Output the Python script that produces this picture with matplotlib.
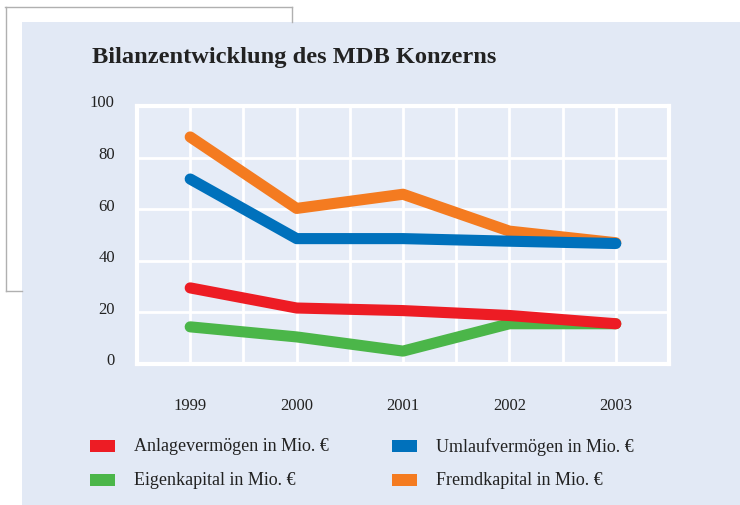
import matplotlib
matplotlib.use("Agg")
import matplotlib.pyplot as plt
import matplotlib.transforms as mtransforms
from matplotlib.patches import Rectangle
from matplotlib.lines import Line2D

years = [1999, 2000, 2001, 2002, 2003]
anlage = [29.5, 21.7, 20.7, 18.8, 15.6]
umlauf = [71.7, 48.6, 48.6, 47.6, 46.7]
eigen = [14.4, 10.5, 5.0, 15.6, 15.6]
fremd = [88.0, 60.3, 65.8, 51.5, 47.0]
y_ticks = [0, 20, 40, 60, 80, 100]
labels = ["Anlagevermögen in Mio. €", "Umlaufvermögen in Mio. €",
          "Eigenkapital in Mio. €", "Fremdkapital in Mio. €"]
title = "Bilanzentwicklung des MDB Konzerns"

RED, BLUE, GREEN, ORANGE = "#ed1c24", "#0071bc", "#4bb649", "#f47b20"
BG = "#e2e9f5"
serif = ["Liberation Serif", "DejaVu Serif"]

W, H = 740, 506
fig = plt.figure(figsize=(W / 100, H / 100), dpi=100)
fig.patch.set_facecolor("white")

# background frame + panel
fig.add_artist(Line2D([5 / W, 292 / W], [1 - 8 / H, 1 - 8 / H], color="#b0b0b0", lw=1))
fig.add_artist(Line2D([292 / W, 292 / W], [1 - 8 / H, 1 - 23 / H], color="#b0b0b0", lw=1))
fig.add_artist(Line2D([6 / W, 6 / W], [1 - 8 / H, 1 - 292 / H], color="#b0b0b0", lw=1))
fig.add_artist(Line2D([6 / W, 22 / W], [1 - 292 / H, 1 - 292 / H], color="#b0b0b0", lw=1))
fig.add_artist(Rectangle((22 / W, 0), 1 - 22 / W, 1 - 23 / H, transform=fig.transFigure,
                         facecolor=BG, edgecolor="none", zorder=0))

ax = fig.add_axes([137 / W, 1 - 365 / H, (669 - 137) / W, (365 - 107) / H])
ax.set_facecolor("#e6ecf7")
ax.set_xlim(1998.5, 2003.5)
ax.set_ylim(0, 100)
ax.set_xticks([y + d for y in years for d in (0, 0.5)][:-1] + [1998.5], minor=True)
ax.set_xticks(years)
ax.set_xticklabels([str(y) for y in years], fontfamily=serif, fontsize=12, color="#222222")
ax.set_yticks(y_ticks)
ax.set_yticklabels([str(v) for v in y_ticks], fontfamily=serif, fontsize=12, color="#222222")
ax.tick_params(which="both", length=0)
ax.tick_params(axis="x", pad=24)
ax.tick_params(axis="y", pad=16)
off = mtransforms.ScaledTranslation(0, 4 / 72, fig.dpi_scale_trans)
for lab in ax.get_yticklabels():
    lab.set_transform(lab.get_transform() + off)
ax.grid(True, which="both", axis="x", color="white", lw=2)
ax.grid(True, which="major", axis="y", color="white", lw=2)
for s in ax.spines.values():
    s.set_color("white")
    s.set_linewidth(3)
ax.set_axisbelow(True)

lw = 8
ax.plot(years, fremd, color=ORANGE, lw=lw, solid_capstyle="round", solid_joinstyle="round", zorder=3)
ax.plot(years, umlauf, color=BLUE, lw=lw, solid_capstyle="round", solid_joinstyle="round", zorder=4)
ax.plot(years, eigen, color=GREEN, lw=lw, solid_capstyle="round", solid_joinstyle="round", zorder=5)
ax.plot(years, anlage, color=RED, lw=lw, solid_capstyle="round", solid_joinstyle="round", zorder=6)

fig.text(92 / W, 1 - 57 / H, title, fontfamily=serif, fontweight="bold", fontsize=17.6,
         color="#222222", va="center", ha="left")

# legend
leg = [(90, 447, RED, labels[0]), (392, 447, BLUE, labels[1]),
       (90, 481, GREEN, labels[2]), (392, 481, ORANGE, labels[3])]
for x, y, c, t in leg:
    fig.add_artist(Rectangle((x / W, 1 - (y + 6) / H), 25 / W, 12 / H, transform=fig.transFigure,
                             facecolor=c, edgecolor="none"))
    fig.text((x + 44) / W, 1 - y / H, t, fontfamily=serif, fontsize=13, color="#222222",
             va="center", ha="left")

fig.savefig("out.png", dpi=100)
